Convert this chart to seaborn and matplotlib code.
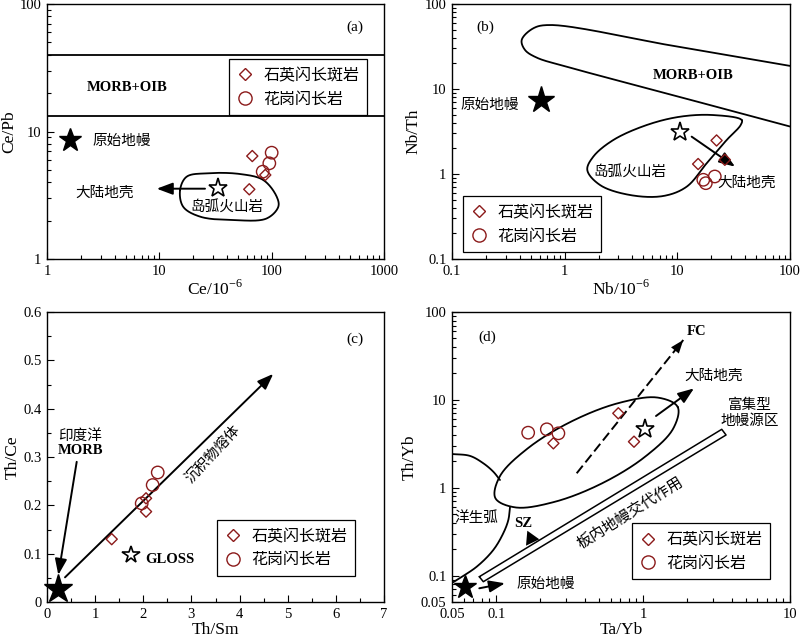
import numpy as np
import pandas as pd
import matplotlib
matplotlib.use("Agg")
import matplotlib.pyplot as plt
import seaborn as sns
from matplotlib.lines import Line2D
from matplotlib.ticker import FixedLocator, FixedFormatter, NullFormatter, LogLocator, MultipleLocator

# ---------------- data ----------------
legend_labels = ["石英闪长斑岩", "花岗闪长岩"]
RED = "#8b1a1a"

# (a) Ce/Pb vs Ce
a_qd_ce = [67.2, 87.7, 63.2]
a_qd_cepb = [6.42, 4.56, 3.52]
a_gd_ce = [100.0, 95.3, 83.2]
a_gd_cepb = [6.82, 5.63, 4.84]
a_morb_bounds = [13.3, 40.0]
a_pm = [1.6, 8.6]
a_arc_star = [33.5, 3.58]
a_arc_x = [15.3, 17.5, 26.4, 52.3, 84.3, 110.9, 114.6, 90.3, 45.6, 23.0, 16.3]
a_arc_y = [3.48, 4.42, 4.70, 4.64, 4.16, 3.08, 2.57, 2.08, 2.02, 2.15, 2.57]
a_crust_arrow = [(25.5, 3.56), (9.48, 3.56)]
a_xticks = [1, 10, 100, 1000]
a_xticklabels = ["1", "10", "100", "1000"]
a_yticks = [1, 10, 100]
a_yticklabels = ["1", "10", "100"]

# (b) Nb/Th vs Nb
b_qd_nb = [22.3, 26.4, 15.3]
b_qd_nbth = [2.48, 1.47, 1.31]
b_gd_nb = [17.0, 17.9, 21.5]
b_gd_nbth = [0.855, 0.78, 0.935]
b_pm = [0.62, 7.45]
b_arc_star = [10.5, 3.08]
b_morb_x = [100, 10, 0.741, 0.527, 0.4155, 0.4445, 0.5646, 1.042, 10, 100]
b_morb_y = [18.7, 31.5, 56.6, 51.8, 37.7, 28.8, 23.4, 18.3, 8.2, 3.62]
b_arc_x = [37.3, 20.7, 10.56, 5.35, 2.70, 1.795, 1.588, 2.06, 3.80, 7.51, 12.1, 18.2, 27.4, 36.5]
b_arc_y = [4.31, 4.94, 4.72, 3.77, 2.51, 1.60, 1.114, 0.742, 0.566, 0.551, 0.709, 1.336, 2.51, 3.77]
b_crust_arrow = [(13.4, 2.75), (32.5, 1.22)]
b_ticks = [0.1, 1, 10, 100]
b_ticklabels = ["0.1", "1", "10", "100"]

# (c) Th/Ce vs Th/Sm
c_qd_thsm = [1.344, 2.057, 2.057]
c_qd_thce = [0.130, 0.187, 0.2145]
c_gd_thsm = [1.967, 2.195, 2.30]
c_gd_thce = [0.204, 0.242, 0.268]
c_morb = [0.22, 0.027]
c_gloss = [1.74, 0.0972]
c_sed_arrow = [(0.374, 0.051), (4.70, 0.472)]
c_morb_arrow = [(0.617, 0.290), (0.235, 0.056)]
c_xticks = [0, 1, 2, 3, 4, 5, 6, 7]
c_yticks = [0, 0.1, 0.2, 0.3, 0.4, 0.5, 0.6]
c_yticklabels = ["0", "0.1", "0.2", "0.3", "0.4", "0.5", "0.6"]

# (d) Th/Yb vs Ta/Yb
d_qd_tayb = [0.245, 0.678, 0.867]
d_qd_thyb = [3.20, 7.03, 3.34]
d_gd_tayb = [0.165, 0.221, 0.265]
d_gd_thyb = [4.23, 4.62, 4.16]
d_pm = [0.0613, 0.0735]
d_crust_star = [1.035, 4.62]
d_ell_x = [1.720, 1.603, 1.036, 0.524, 0.248, 0.1346, 0.0986, 0.1058, 0.1635, 0.3235, 0.683, 1.259]
d_ell_y = [8.29, 4.71, 2.265, 1.119, 0.688, 0.597, 0.763, 1.345, 2.795, 5.655, 9.21, 10.61]
d_oa_up_x = [0.05, 0.0663, 0.0817, 0.0955, 0.1061]
d_oa_up_y = [2.42, 2.30, 1.896, 1.521, 1.224]
d_oa_lo_x = [0.1241, 0.1209, 0.1117, 0.0955, 0.0736, 0.0538, 0.05]
d_oa_lo_y = [0.598, 0.429, 0.303, 0.1953, 0.126, 0.089, 0.0823]
d_bar_x = [0.0767, 3.43, 3.67, 0.0817, 0.0767]
d_bar_y = [0.097, 4.62, 3.98, 0.0851, 0.097]
d_sz_x = [0.1628, 0.1595, 0.1965]
d_sz_y = [0.324, 0.2187, 0.2586]
d_fc_arrow = [(0.353, 1.459), (1.877, 48.0)]
d_crust_arrow = [(1.224, 6.55), (2.22, 13.5)]
d_pm_arrow = [(0.0767, 0.0716), (0.1147, 0.0817)]
d_xticks = [0.05, 0.1, 1, 10]
d_xticklabels = ["0.05", "0.1", "1", "10"]
d_yticks = [0.05, 0.1, 1, 10, 100]
d_yticklabels = ["0.05", "0.1", "1", "10", "100"]

# ---------------- style ----------------
sns.set_style("ticks", rc={"axes.edgecolor": "black", "xtick.color": "black",
                           "ytick.color": "black", "text.color": "black",
                           "axes.labelcolor": "black",
                           "xtick.direction": "in", "ytick.direction": "in"})
plt.rcParams["font.family"] = ["Liberation Serif", "Noto Sans CJK SC"]
plt.rcParams["mathtext.fontset"] = "custom"
plt.rcParams["mathtext.rm"] = "Liberation Serif"
CJK = ["Noto Sans CJK SC", "DejaVu Sans"]
SERIF = ["Liberation Serif", "Noto Sans CJK SC"]

fig = plt.figure(figsize=(8, 6.39), dpi=100)
L1, L2 = 47 / 800, 452 / 800
W1, W2 = 337 / 800, 338 / 800
BT, HT = 1 - 259 / 639, 255 / 639
BB, HB = 1 - 602 / 639, 290 / 639
axA = fig.add_axes([L1, BT, W1, HT])
axB = fig.add_axes([L2, BT, W2, HT])
axC = fig.add_axes([L1, BB, W1, HB])
axD = fig.add_axes([L2, BB, W2, HB])

LW = 1.3
TFS = 10.5
LFS = 12.5


def catmull_rom(P, closed=False, n=30):
    P = np.asarray(P, float)
    if closed:
        Q = np.vstack([P[-1], P, P[0], P[1]])
    else:
        Q = np.vstack([2 * P[0] - P[1], P, 2 * P[-1] - P[-2]])
    segs = []
    for i in range(1, len(Q) - 2):
        p0, p1, p2, p3 = Q[i - 1], Q[i], Q[i + 1], Q[i + 2]
        t0 = 0.0
        t1 = t0 + max(np.hypot(*(p1 - p0)), 1e-6) ** 0.5
        t2 = t1 + max(np.hypot(*(p2 - p1)), 1e-6) ** 0.5
        t3 = t2 + max(np.hypot(*(p3 - p2)), 1e-6) ** 0.5
        t = np.linspace(t1, t2, n)[:, None]
        A1 = (t1 - t) / (t1 - t0) * p0 + (t - t0) / (t1 - t0) * p1
        A2 = (t2 - t) / (t2 - t1) * p1 + (t - t1) / (t2 - t1) * p2
        A3 = (t3 - t) / (t3 - t2) * p2 + (t - t2) / (t3 - t2) * p3
        B1 = (t2 - t) / (t2 - t0) * A1 + (t - t0) / (t2 - t0) * A2
        B2 = (t3 - t) / (t3 - t1) * A2 + (t - t1) / (t3 - t1) * A3
        C = (t2 - t) / (t2 - t1) * B1 + (t - t1) / (t2 - t1) * B2
        segs.append(C[:-1])
    segs.append(Q[-2][None, :])
    return np.vstack(segs)


def draw_curve(ax, xs, ys, closed=False, **kw):
    disp = ax.transData.transform(np.column_stack([xs, ys]))
    sm = catmull_rom(disp, closed)
    data = ax.transData.inverted().transform(sm)
    ax.plot(data[:, 0], data[:, 1], color="k", lw=LW, solid_capstyle="round", **kw)


def arrow(ax, start, end, ls="-", lw=1.4):
    ax.annotate("", xy=end, xytext=start,
                arrowprops=dict(arrowstyle="-|>,head_length=0.8,head_width=0.3",
                                color="k", lw=lw, shrinkA=0, shrinkB=0,
                                mutation_scale=12, linestyle=ls), zorder=4)


def samples(ax, qx, qy, gx, gy):
    dq = pd.DataFrame({"x": qx, "y": qy})
    dg = pd.DataFrame({"x": gx, "y": gy})
    sns.scatterplot(data=dq, x="x", y="y", ax=ax, marker="D", s=32, facecolor="none",
                    edgecolor=RED, linewidth=1.0, legend=False, zorder=6)
    sns.scatterplot(data=dg, x="x", y="y", ax=ax, marker="o", s=80, facecolor="none",
                    edgecolor=RED, linewidth=1.0, legend=False, zorder=6)


def add_legend(ax, x0, ytop):
    h = [Line2D([], [], ls="none", marker="D", ms=6.2, mfc="none", mec=RED, mew=1.0),
         Line2D([], [], ls="none", marker="o", ms=9.5, mfc="none", mec=RED, mew=1.0)]
    leg = ax.legend(h, legend_labels, loc="upper left", bbox_to_anchor=(x0, ytop),
                    bbox_transform=ax.transAxes, borderaxespad=0, frameon=True,
                    fancybox=False, edgecolor="k", framealpha=1,
                    prop={"family": CJK, "size": 11.5}, handlelength=1.0,
                    handletextpad=0.65, labelspacing=0.4, borderpad=0.5)
    leg.get_frame().set_linewidth(0.9)
    leg.set_zorder(10)


def style(ax, log=True):
    ax.tick_params(which="both", direction="in", top=False, right=False,
                   labelsize=TFS, pad=4)
    ax.tick_params(which="major", length=5, width=0.8)
    ax.tick_params(which="minor", length=3, width=0.8)
    for s in ax.spines.values():
        s.set_linewidth(1.0)
        s.set_color("k")


def log_ticks(axis, ticks, labels):
    axis.set_major_locator(FixedLocator(ticks))
    axis.set_major_formatter(FixedFormatter(labels))
    axis.set_minor_locator(LogLocator(base=10, subs=np.arange(2, 10)))
    axis.set_minor_formatter(NullFormatter())


def txt(ax, fx, fy, s, size=10.5, cjk=True, **kw):
    ax.text(fx, fy, s, transform=ax.transAxes, ha=kw.pop("ha", "center"),
            va=kw.pop("va", "center"), fontsize=size,
            family=CJK if cjk else SERIF, **kw)


# ---------------- panel (a) ----------------
ax = axA
ax.set_xscale("log"); ax.set_yscale("log")
ax.set_xlim(1, 1000); ax.set_ylim(1, 100)
for yb in a_morb_bounds:
    ax.axhline(yb, color="k", lw=LW)
draw_curve(ax, a_arc_x, a_arc_y, closed=True)
arrow(ax, a_crust_arrow[0], a_crust_arrow[1])
samples(ax, a_qd_ce, a_qd_cepb, a_gd_ce, a_gd_cepb)
ax.plot(*a_pm, marker="*", ms=17, color="k", ls="none", zorder=7)
ax.plot(*a_arc_star, marker="*", ms=14, mfc="white", mec="k", mew=1.2, ls="none", zorder=7)
ax.set_xlim(1, 1000); ax.set_ylim(1, 100)
log_ticks(ax.xaxis, a_xticks, a_xticklabels)
log_ticks(ax.yaxis, a_yticks, a_yticklabels)
style(ax)
ax.set_xlabel("Ce/10$^{\\mathregular{-6}}$", fontsize=LFS, labelpad=1)
ax.set_ylabel("Ce/Pb", fontsize=LFS, labelpad=2)
txt(ax, 0.914, 0.910, "(a)", size=11, cjk=False)
txt(ax, 0.237, 0.671, "MORB+OIB", size=10.5, cjk=False, weight="bold")
txt(ax, 0.2226, 0.463, "原始地幔")
txt(ax, 0.172, 0.26, "大陆地壳")
txt(ax, 0.533, 0.205, "岛弧火山岩")
add_legend(ax, 0.540, 0.784)

# ---------------- panel (b) ----------------
ax = axB
ax.set_xscale("log"); ax.set_yscale("log")
ax.set_xlim(0.1, 100); ax.set_ylim(0.1, 100)
draw_curve(ax, b_morb_x, b_morb_y, closed=False)
draw_curve(ax, b_arc_x, b_arc_y, closed=True)
arrow(ax, b_crust_arrow[0], b_crust_arrow[1])
samples(ax, b_qd_nb, b_qd_nbth, b_gd_nb, b_gd_nbth)
ax.plot(*b_pm, marker="*", ms=20, color="k", ls="none", zorder=7)
ax.plot(*b_arc_star, marker="*", ms=14, mfc="white", mec="k", mew=1.2, ls="none", zorder=7)
ax.set_xlim(0.1, 100); ax.set_ylim(0.1, 100)
log_ticks(ax.xaxis, b_ticks, b_ticklabels)
log_ticks(ax.yaxis, b_ticks, b_ticklabels)
style(ax)
ax.set_xlabel("Nb/10$^{\\mathregular{-6}}$", fontsize=LFS, labelpad=1)
ax.set_ylabel("Nb/Th", fontsize=LFS, labelpad=2)
txt(ax, 0.0976, 0.91, "(b)", size=11, cjk=False)
txt(ax, 0.713, 0.718, "MORB+OIB", size=10.5, cjk=False, weight="bold")
txt(ax, 0.1124, 0.604, "原始地幔")
txt(ax, 0.527, 0.342, "岛弧火山岩")
txt(ax, 0.872, 0.297, "大陆地壳")
add_legend(ax, 0.0325, 0.247)

# ---------------- panel (c) ----------------
ax = axC
ax.set_xlim(0, 7); ax.set_ylim(0, 0.6)
arrow(ax, c_sed_arrow[0], c_sed_arrow[1])
arrow(ax, c_morb_arrow[0], c_morb_arrow[1])
samples(ax, c_qd_thsm, c_qd_thce, c_gd_thsm, c_gd_thce)
ax.plot(*c_morb, marker="*", ms=21, color="k", ls="none", zorder=7, clip_on=False)
ax.plot(*c_gloss, marker="*", ms=13, mfc="white", mec="k", mew=1.2, ls="none", zorder=7)
ax.set_xlim(0, 7); ax.set_ylim(0, 0.6)
ax.xaxis.set_major_locator(FixedLocator(c_xticks))
ax.xaxis.set_major_formatter(FixedFormatter([str(v) for v in c_xticks]))
ax.xaxis.set_minor_locator(MultipleLocator(0.5))
ax.yaxis.set_major_locator(FixedLocator(c_yticks))
ax.yaxis.set_major_formatter(FixedFormatter(c_yticklabels))
ax.yaxis.set_minor_locator(MultipleLocator(0.05))
style(ax)
ax.set_xlabel("Th/Sm", fontsize=LFS, labelpad=1)
ax.set_ylabel("Th/Ce", fontsize=LFS, labelpad=2)
txt(ax, 0.914, 0.906, "(c)", size=11, cjk=False)
txt(ax, 0.098, 0.572, "印度洋")
txt(ax, 0.098, 0.522, "MORB", size=10.5, cjk=False, weight="bold")
txt(ax, 0.4935, 0.507, "沉积物熔体", rotation=47)
txt(ax, 0.291, 0.147, "GLOSS", size=10.5, cjk=False, weight="bold", ha="left")
add_legend(ax, 0.504, 0.283)

# ---------------- panel (d) ----------------
ax = axD
ax.set_xscale("log"); ax.set_yscale("log")
ax.set_xlim(0.05, 10); ax.set_ylim(0.05, 100)
draw_curve(ax, d_ell_x, d_ell_y, closed=True)
draw_curve(ax, d_oa_up_x, d_oa_up_y, closed=False)
draw_curve(ax, d_oa_lo_x, d_oa_lo_y, closed=False)
ax.plot(d_bar_x, d_bar_y, color="k", lw=1.1)
ax.fill(d_sz_x, d_sz_y, color="k", lw=0)
# FC dashed arrow
(fx0, fy0), (fx1, fy1) = d_fc_arrow
ax.plot([fx0, fx1], [fy0, fy1], color="k", lw=1.4, dashes=(5, 2.2))
arrow(ax, (fx0, fy0), (fx1, fy1), ls="-", lw=0.0)
arrow(ax, d_crust_arrow[0], d_crust_arrow[1])
arrow(ax, d_pm_arrow[0], d_pm_arrow[1])
samples(ax, d_qd_tayb, d_qd_thyb, d_gd_tayb, d_gd_thyb)
ax.plot(*d_pm, marker="*", ms=17, color="k", ls="none", zorder=7, clip_on=False)
ax.plot(*d_crust_star, marker="*", ms=14, mfc="white", mec="k", mew=1.2, ls="none", zorder=7)
ax.set_xlim(0.05, 10); ax.set_ylim(0.05, 100)
log_ticks(ax.xaxis, d_xticks, d_xticklabels)
log_ticks(ax.yaxis, d_yticks, d_yticklabels)
style(ax)
ax.set_xlabel("Ta/Yb", fontsize=LFS, labelpad=1)
ax.set_ylabel("Th/Yb", fontsize=LFS, labelpad=2)
txt(ax, 0.104, 0.913, "(d)", size=11, cjk=False)
txt(ax, 0.724, 0.932, "FC", size=10.5, cjk=False, weight="bold")
txt(ax, 0.773, 0.779, "大陆地壳")
txt(ax, 0.882, 0.679, "富集型")
txt(ax, 0.882, 0.625, "地幔源区")
txt(ax, 0.073, 0.289, "洋生弧")
txt(ax, 0.211, 0.271, "SZ", size=10.5, cjk=False, weight="bold")
txt(ax, 0.527, 0.306, "板内地幔交代作用", size=11, rotation=32)
txt(ax, 0.191, 0.062, "原始地幔", ha="left")
add_legend(ax, 0.533, 0.272)

fig.savefig("out.png", dpi=100)
